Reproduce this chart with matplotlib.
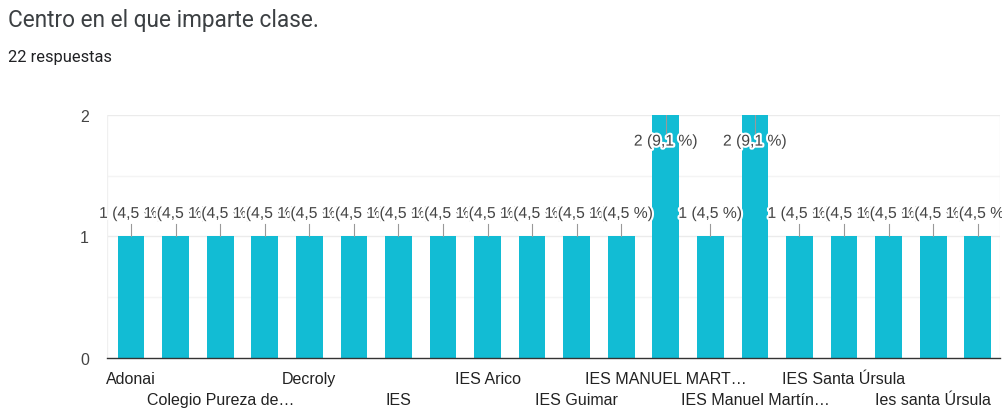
import matplotlib
matplotlib.use("Agg")
import matplotlib.pyplot as plt
import matplotlib.patheffects as pe

# Google Forms summary: "Centro en el que imparte clase."
title = "Centro en el que imparte clase."
subtitle = "22 respuestas"
total = 22

# only every other category name is printed on the axis in the original
centros = ["Adonai", "", "Colegio Pureza de…", "", "Decroly", "", "IES", "",
           "IES Arico", "", "IES Guimar", "", "IES MANUEL MART…", "",
           "IES Manuel Martín…", "", "IES Santa Úrsula", "",
           "Ies santa Úrsula", ""]
respuestas = [1, 1, 1, 1, 1, 1, 1, 1, 1, 1, 1, 1, 2, 1, 2, 1, 1, 1, 1, 1]
yticks = [0, 1, 2]

bar_color = "#12BCD4"
fig = plt.figure(figsize=(10.03, 4.10), dpi=100)
ax = fig.add_axes([0.1067, 0.1244, 0.8903, 0.5927])

x = list(range(len(respuestas)))
ax.bar(x, respuestas, width=0.6, color=bar_color, zorder=2)

ax.set_xlim(-0.54, len(x) - 0.5)
ax.set_ylim(0, 2)
ax.set_yticks(yticks)
ax.set_yticklabels([str(t) for t in yticks], fontsize=11.5,
                   family="Liberation Sans", color="#444444")
ax.tick_params(axis="y", length=0, pad=13)
ax.set_xticks([])

for s in ["top", "right", "left"]:
    ax.spines[s].set_visible(False)
ax.spines["bottom"].set_color("#333333")
ax.spines["bottom"].set_linewidth(1.0)
ax.spines["bottom"].set_zorder(3)

# light grid
for yv in [0.5, 1, 1.5, 2]:
    ax.axhline(yv, color="#EBEBEB" if yv % 1 == 0 else "#F4F4F4",
               lw=1, zorder=1)
ax.axvline(-0.54, color="#F0F0F0", lw=1, zorder=1)
ax.axvline(len(x) - 0.5, color="#F0F0F0", lw=1, zorder=1)

# value labels with leader lines
halo = [pe.withStroke(linewidth=3, foreground="white")]
for xi, v in zip(x, respuestas):
    pct = f"{v / total * 100:.1f}".replace(".", ",")
    lab = f"{v} ({pct} %)"
    if v >= 2:
        ax.plot([xi, xi], [2, 1.85], color="#999999", lw=0.8, zorder=3)
        ty = 1.785
    else:
        ax.plot([xi, xi], [v, v + 0.105], color="#999999", lw=0.8, zorder=3)
        ty = v + 0.19
    ax.text(xi, ty, lab, ha="center", va="center", fontsize=11.3,
            family="Liberation Sans", color="#444444", zorder=4,
            path_effects=halo)

# category labels in two staggered rows
for xi, name in zip(x, centros):
    if not name:
        continue
    row = (xi // 2) % 2
    ax.text(xi, -0.17 - row * 0.175, name, ha="center", va="center",
            fontsize=11.5, family="Liberation Sans", color="#222222",
            clip_on=False)

fig.text(0.008, 0.949, title, fontsize=16.3, family="Roboto",
         color="#3C4043", va="center")
fig.text(0.008, 0.859, subtitle, fontsize=11.8, family="Roboto",
         color="#202124", va="center")

fig.savefig("out.png", dpi=100)
